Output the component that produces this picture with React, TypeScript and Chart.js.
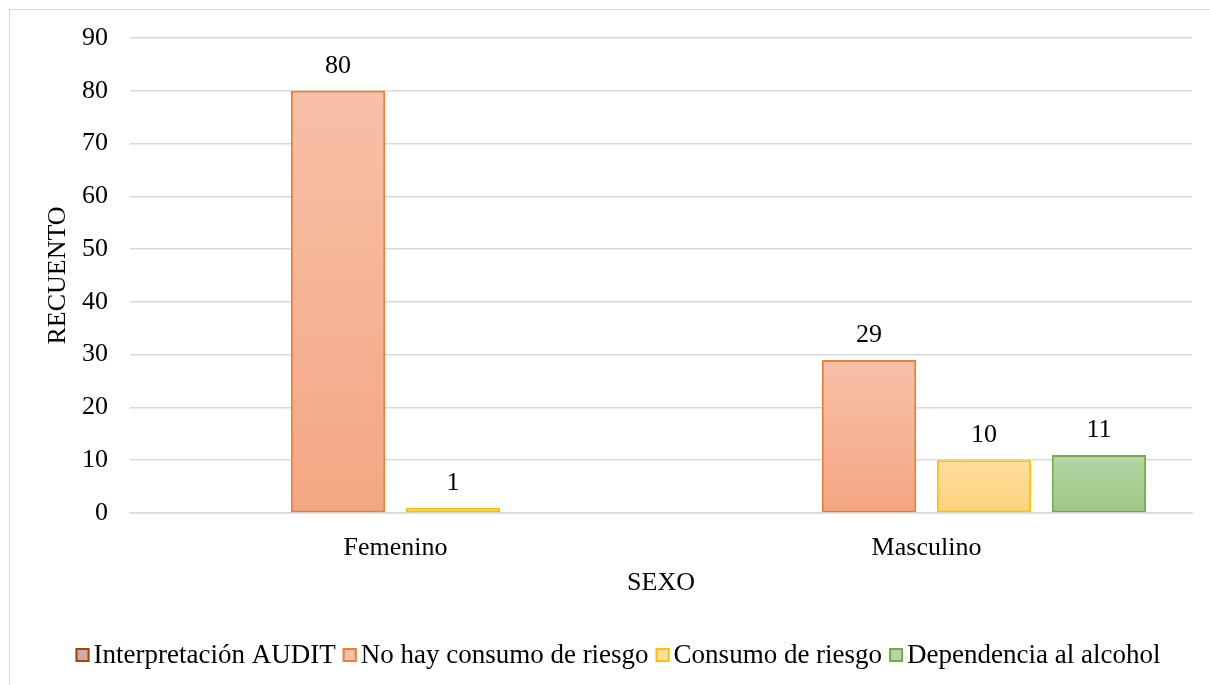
import React, { useEffect, useRef } from "react";
import { Chart, registerables } from "chart.js";

Chart.register(...registerables);

const categories = ["Femenino", "Masculino"];
const seriesNames = [
  "Interpretación AUDIT",
  "No hay consumo de riesgo",
  "Consumo de riesgo",
  "Dependencia al alcohol",
];
const interpretacionValues: (number | null)[] = [null, null];
const noRiesgoValues: (number | null)[] = [80, 29];
const consumoRiesgoValues: (number | null)[] = [1, 10];
const dependenciaValues: (number | null)[] = [null, 11];
const yTicks = [0, 10, 20, 30, 40, 50, 60, 70, 80, 90];

const FONT = "'Liberation Serif', 'Times New Roman', serif";

const palettes = [
  { top: "#cfaaa6", bottom: "#c29a94", border: "#9e480e" },
  { top: "#f8c0a8", bottom: "#f4a683", border: "#ed7d31" },
  { top: "#fedea0", bottom: "#fdd27a", border: "#ffc000" },
  { top: "#b6d5a6", bottom: "#9cc784", border: "#70ad47" },
];

function gradientFill(idx: number) {
  return (ctx: any) => {
    const p = palettes[idx];
    if (ctx.type !== "data") return p.top;
    const chart = ctx.chart;
    const y = chart.scales?.y;
    const v = ctx.raw;
    if (!chart.chartArea || !y || v == null) return p.top;
    const top = y.getPixelForValue(v);
    const bottom = y.getPixelForValue(0);
    if (!isFinite(top) || !isFinite(bottom) || top === bottom) return p.top;
    const g = chart.ctx.createLinearGradient(0, top, 0, bottom);
    g.addColorStop(0, p.top);
    g.addColorStop(1, p.bottom);
    return g;
  };
}

const valueLabels = {
  id: "valueLabels",
  afterDatasetsDraw(chart: any) {
    const ctx = chart.ctx;
    ctx.save();
    ctx.font = `26px ${FONT}`;
    ctx.fillStyle = "#000000";
    ctx.textAlign = "center";
    ctx.textBaseline = "alphabetic";
    chart.data.datasets.forEach((ds: any, di: number) => {
      const meta = chart.getDatasetMeta(di);
      meta.data.forEach((bar: any, i: number) => {
        const v = ds.data[i];
        if (v == null) return;
        ctx.fillText(String(v), bar.x, bar.y - 18);
      });
    });
    ctx.restore();
  },
};

const customLegend = {
  id: "customLegend",
  afterDraw(chart: any) {
    const ctx = chart.ctx;
    const fontSize = 27;
    const box = 14;
    const gapBoxText = 4;
    const gapItems = 7;
    const cy = 655;
    ctx.save();
    ctx.font = `${fontSize}px ${FONT}`;
    const widths = seriesNames.map((n) => ctx.measureText(n).width);
    const total =
      widths.reduce((a, b) => a + b, 0) +
      seriesNames.length * (box + gapBoxText) +
      (seriesNames.length - 1) * gapItems;
    let x = 618 - total / 2;
    ctx.textBaseline = "middle";
    ctx.textAlign = "left";
    seriesNames.forEach((name, i) => {
      const p = palettes[i];
      ctx.fillStyle = p.top;
      ctx.fillRect(x, cy - box / 2, box, box);
      ctx.strokeStyle = p.border;
      ctx.lineWidth = 2;
      ctx.strokeRect(x + 1, cy - box / 2 + 1, box - 2, box - 2);
      x += box + gapBoxText;
      ctx.fillStyle = "#000000";
      ctx.fillText(name, x, cy + 1);
      x += widths[i] + gapItems;
    });
    ctx.restore();
  },
};

export default function App() {
  const ref = useRef<HTMLCanvasElement | null>(null);
  useEffect(() => {
    if (!ref.current) return;
    const allValues = [interpretacionValues, noRiesgoValues, consumoRiesgoValues, dependenciaValues];
    const chart = new Chart(ref.current, {
      type: "bar",
      data: {
        labels: categories,
        datasets: allValues.map((vals, i) => ({
          label: seriesNames[i],
          data: vals,
          backgroundColor: gradientFill(i),
          borderColor: palettes[i].border,
          borderWidth: 2,
          borderSkipped: false,
          categoryPercentage: 0.866,
          barPercentage: 0.82,
        })),
      },
      options: {
        responsive: false,
        animation: false,
        layout: { padding: { left: 30, right: 18, top: 38, bottom: 86 } },
        plugins: {
          tooltip: { enabled: false },
          legend: { display: false },
        },
        scales: {
          x: {
            grid: { display: false, drawTicks: false },
            border: { display: true, color: "#d9d9d9", width: 1.5 },
            ticks: { font: { family: FONT, size: 26 }, color: "#000000", padding: 20 },
            title: {
              display: true,
              text: "SEXO",
              font: { family: FONT, size: 26 },
              color: "#000000",
              padding: { top: 0, bottom: 0 },
            },
            afterFit: (s: any) => {
              s.height = 86;
            },
          },
          y: {
            min: 0,
            max: 90,
            afterBuildTicks: (s: any) => {
              s.ticks = yTicks.map((v) => ({ value: v }));
            },
            grid: { color: "#d9d9d9", lineWidth: 1.5, drawTicks: false },
            border: { display: false },
            ticks: { font: { family: FONT, size: 26 }, color: "#000000", padding: 22 },
            title: {
              display: true,
              text: "RECUENTO",
              font: { family: FONT, size: 26 },
              color: "#000000",
              padding: { top: 13, bottom: 0 },
            },
            afterFit: (s: any) => {
              s.width = 100;
            },
          },
        },
      },
      plugins: [valueLabels, customLegend],
    });
    return () => chart.destroy();
  }, []);
  return (
    <div style={{ position: "fixed", left: 0, top: 0, width: 1210, height: 685, background: "#ffffff", overflow: "hidden" }}>
      <div
        style={{
          position: "absolute",
          left: 9,
          top: 9,
          width: 1210,
          height: 700,
          border: "1px solid #d9d9d9",
          borderRight: "none",
          boxSizing: "border-box",
        }}
      />
      <canvas ref={ref} width={1210} height={685} style={{ position: "absolute", left: 0, top: 0 }} />
    </div>
  );
}
